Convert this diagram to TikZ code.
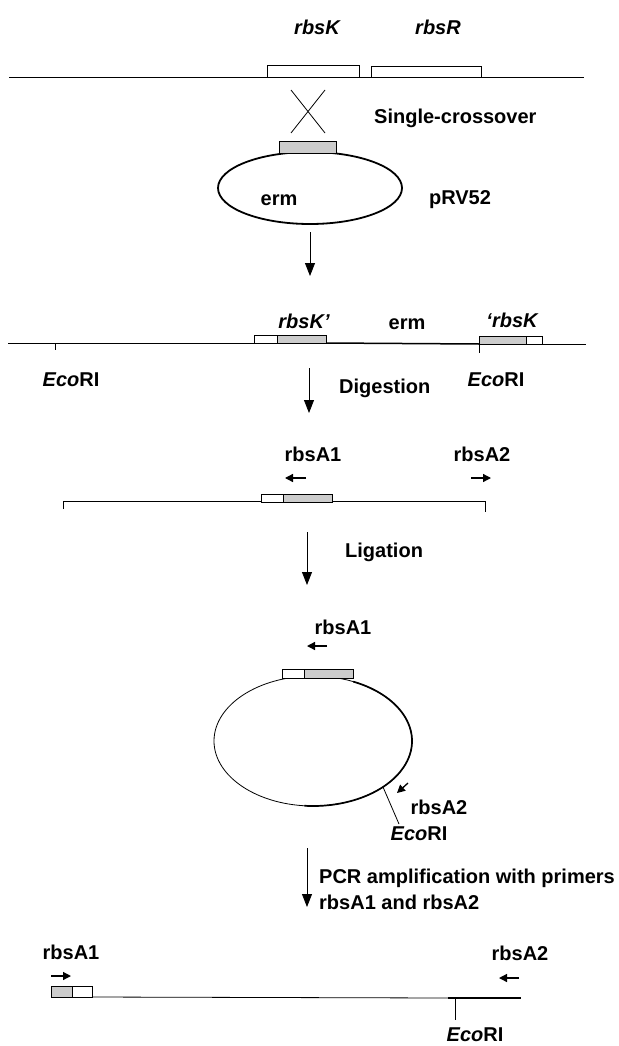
\documentclass[tikz,border=0pt]{standalone}
\usepackage{fontspec}
\setmainfont{Liberation Sans}
\usetikzlibrary{arrows.meta}
\begin{document}
\begin{tikzpicture}[x=1pt,y=-1pt,
  lbl/.style={font=\bfseries\fontsize{20}{23}\selectfont, inner sep=0pt},
  ilbl/.style={inner sep=0pt, font=\bfseries\itshape\fontsize{20}{23}\selectfont},
  dna/.style={line width=0.8pt},
  dnathick/.style={line width=1.5pt},
  gbox/.style={draw, line width=0.8pt, fill=white},
  sbox/.style={draw, line width=0.8pt, fill=gray!40},
  steparrow/.style={line width=0.8pt, -{Triangle[length=13pt,width=10pt]}},
  primer/.style={line width=1.3pt, -{Triangle[length=8pt,width=8pt]}},
]
\useasboundingbox (0,0) rectangle (618,1046);

% ---------- row 1: chromosome ----------
\draw[dna] (9,77) -- (584,77);
\draw[gbox] (267,65) rectangle (359,77);
\draw[gbox] (371,66) rectangle (481,77);
\node[ilbl] (rbsK) at (317,27) {rbsK};
\node[ilbl] (rbsR) at (438,27) {rbsR};
\draw[dna] (291,90) -- (325,133) (325,90) -- (291,133);
\node[lbl, anchor=west] (sc) at (374,118) {Single-crossover};

% ---------- plasmid pRV52 ----------
\draw[line width=1.8pt] (310,188) ellipse [x radius=92, y radius=36];
\draw[sbox] (279,141) rectangle (336,153);
\node[lbl] (erm1) at (279,200) {erm};
\node[lbl] (prv) at (460,200) {pRV52};
\coordinate (a1s) at (310,232);
\coordinate (a1e) at (310,276);
\draw[steparrow] (a1s) -- (a1e);

% ---------- row 2: integrated ----------
\draw[dna] (8,343) -- (254,343);
\draw[dnathick] (326,343) -- (479,344);
\draw[dna] (542,344) -- (586,344);
\draw[gbox] (254,335) rectangle (277,343);
\draw[sbox] (277,335) rectangle (326,343);
\draw[sbox] (479,336) rectangle (526,344);
\draw[gbox] (526,336) rectangle (542,344);
\draw[dna] (55,343) -- (55,350);
\draw[dna] (479,343) -- (479,353);
\node[ilbl] (rbsKp) at (304,321) {rbsK'};
\node[lbl] (erm2) at (407,324) {erm};
\node[ilbl] (prbsK) at (512,320) {`rbsK};
\node[lbl] (eco1) at (71,380) {\textit{Eco}RI};
\node[lbl] (eco2) at (496,380) {\textit{Eco}RI};
\coordinate (a2s) at (309,368);
\coordinate (a2e) at (309,413);
\draw[steparrow] (a2s) -- (a2e);
\node[lbl, anchor=west] (dig) at (339,388) {Digestion};

% ---------- row 3: digested fragment ----------
\node[lbl] (A1a) at (313,454) {rbsA1};
\node[lbl] (A2a) at (482,454) {rbsA2};
\coordinate (p1s) at (306,478); \coordinate (p1e) at (285,478);
\coordinate (p2s) at (471,478); \coordinate (p2e) at (491,478);
\draw[primer] (p1s) -- (p1e);
\draw[primer] (p2s) -- (p2e);
\draw[dna] (63,509) -- (63,501) -- (261,501);
\draw[dna] (332,501) -- (485,501) -- (485,512);
\draw[gbox] (261,494) rectangle (283,502);
\draw[sbox] (283,494) rectangle (332,502);
\coordinate (a3s) at (307,532);
\coordinate (a3e) at (307,585);
\draw[steparrow] (a3s) -- (a3e);
\node[lbl, anchor=west] (lig) at (345,552) {Ligation};

% ---------- ligated circle ----------
\node[lbl] (A1b) at (343,627) {rbsA1};
\coordinate (p3s) at (327,646); \coordinate (p3e) at (307,646);
\draw[primer] (p3s) -- (p3e);
\draw[dna] (313,741) ellipse [x radius=99, y radius=65];
\draw[line width=1.7pt] ([shift={(-66:99 and 65)}]313,741) arc [start angle=-66, end angle=95, x radius=99, y radius=65];
\draw[gbox] (282,669) rectangle (304,678);
\draw[sbox] (304,669) rectangle (353,678);
\coordinate (p4s) at (408,783); \coordinate (p4e) at (397,793);
\draw[primer] (p4s) -- (p4e);
\coordinate (t3s) at (383,787); \coordinate (t3e) at (399,824);
\draw[dna] (t3s) -- (t3e);
\node[lbl] (A2b) at (439,807) {rbsA2};
\node[lbl] (eco3) at (419,834) {\textit{Eco}RI};
\coordinate (a4s) at (307,848);
\coordinate (a4e) at (307,907);
\draw[steparrow] (a4s) -- (a4e);
\node[lbl, anchor=west] (pcr1) at (319,878) {PCR amplification with primers};
\node[lbl, anchor=west] (pcr2) at (319,902) {rbsA1 and rbsA2};

% ---------- row 4: PCR product ----------
\node[lbl] (A1c) at (71,952) {rbsA1};
\coordinate (p5s) at (51,976); \coordinate (p5e) at (71,976);
\draw[primer] (p5s) -- (p5e);
\node[lbl] (A2c) at (520,953) {rbsA2};
\coordinate (p6s) at (519,978); \coordinate (p6e) at (499,978);
\draw[primer] (p6s) -- (p6e);
\draw[dna] (92,997) -- (448,998);
\draw[dnathick] (448,998) -- (521,998);
\draw[sbox] (51,986) rectangle (72,997);
\draw[gbox] (72,986) rectangle (92,997);
\draw[dna] (455,998) -- (455,1020);
\node[lbl] (eco4) at (475,1035) {\textit{Eco}RI};
\end{tikzpicture}
\end{document}
